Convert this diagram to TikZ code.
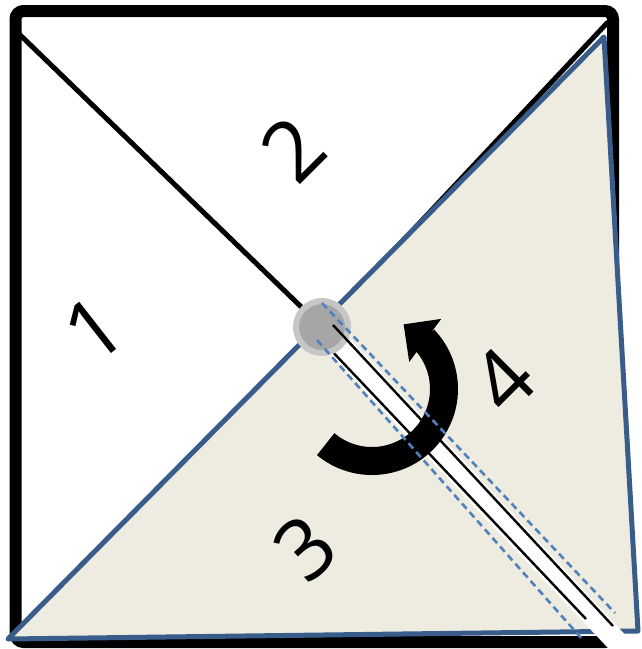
\documentclass[tikz,border=0pt]{standalone}
\usepackage{fontspec}
\setmainfont{Open Sans}
\usetikzlibrary{arrows.meta,bending}
\definecolor{bgtan}{HTML}{EEECE1}
\definecolor{edgeblue}{HTML}{385D8A}
\definecolor{dashblue}{HTML}{4F81BD}
\definecolor{pinfill}{HTML}{A6A6A6}
\definecolor{pinring}{HTML}{C6C6C6}
\begin{document}
\begin{tikzpicture}[x=1pt,y=-1pt,
  sqborder/.style={line width=12pt, rounded corners=8pt},
  diagline/.style={line width=5pt},
  tripiece/.style={fill=bgtan, draw=edgeblue, line width=5pt, line join=round},
  cutline/.style={line width=2.4pt},
  dashline/.style={draw=dashblue, line width=2.6pt, dash pattern=on 7pt off 4.5pt},
  digit/.style={font=\fontsize{84}{84}\selectfont, inner sep=0pt}]
\useasboundingbox (0,0) rectangle (642,649);
\fill[white] (0,0) rectangle (642,649);
% coordinates
\coordinate (C) at (322,327);
\coordinate (TLc) at (16,31);
\coordinate (TRc) at (608,22);
% diagonals
\draw[diagline] (TLc) -- (C);
\draw[diagline] (TRc) -- (C);
% square
\draw[sqborder] (15.5,11) rectangle (613,642);
% rotated piece
\draw[tripiece] (604,37) -- (638,631) -- (8,639) -- cycle;
% cut strip
\fill[white] (316.6,340) -- (351,340) -- (638.4,649) -- (609,649) -- cycle;
\coordinate (L1) at (329,348);
\coordinate (L2) at (586,619);
\draw[cutline] (L1) -- (L2);
% pin
\node[circle, fill=pinfill, draw=pinring, line width=6pt, minimum size=52pt, inner sep=0pt] (pin) at (C) {};
\coordinate (U1) at (333,325);
\coordinate (U2) at (613,626);
\draw[cutline] (U1) -- (U2);
% arrow
\draw[line width=28pt, -{Triangle[width=52pt,length=27pt,flex]}]
  ([shift={(130:72)}]372,389) arc[start angle=130, end angle=-64, radius=72];
% dashed guides
\coordinate (D1a) at (317,340);
\coordinate (D1b) at (583,640);
\coordinate (D2a) at (322,303);
\coordinate (D2b) at (615,613);
\draw[dashline] (D1a) -- (D1b);
\draw[dashline] (D2a) -- (D2b);
% digits
\node[digit, rotate=38] (n1) at (94,329) {1};
\node[digit, rotate=45] (n2) at (293,149) {2};
\node[digit, rotate=42] (n3) at (305,548) {3};
\node[digit, rotate=45] (n4) at (503,380) {4};
\end{tikzpicture}
\end{document}
